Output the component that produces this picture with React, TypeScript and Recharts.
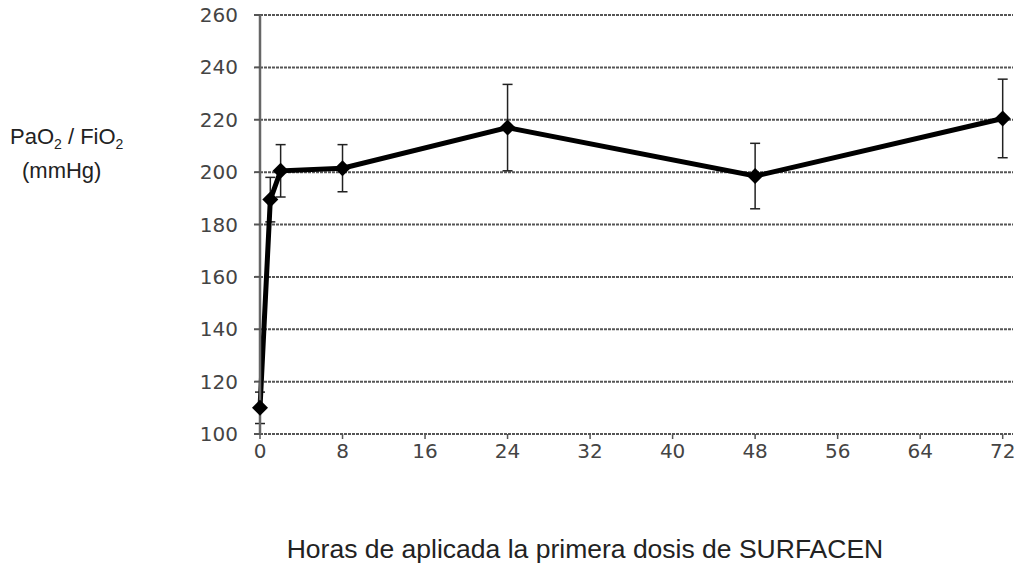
import React from "react";
import {
  LineChart,
  Line,
  XAxis,
  YAxis,
  CartesianGrid,
  ErrorBar,
} from "recharts";

// hours after the first SURFACEN dose
const hours = [0, 1, 2, 8, 24, 48, 72];
// PaO2 / FiO2 means (mmHg)
const pafi = [110, 189.5, 200.5, 201.5, 217, 198.5, 220.5];
// error (±)
const spread = [6, 8.5, 10, 9, 16.5, 12.5, 15];

const xTicks = [0, 8, 16, 24, 32, 40, 48, 56, 64, 72];
const yTicks = [100, 120, 140, 160, 180, 200, 220, 240, 260];

const data = hours.map((h, i) => ({ h, v: pafi[i], e: spread[i] }));

const Diamond = (props: any) => {
  const { cx, cy, index } = props;
  if (cx == null || cy == null) return null;
  const r = 8;
  return (
    <path
      key={`d-${index}`}
      d={`M${cx},${cy - r}L${cx + r},${cy}L${cx},${cy + r}L${cx - r},${cy}Z`}
      fill="#000"
    />
  );
};

const tickStyle = {
  fontFamily: "DejaVu Sans",
  fontSize: 20,
  fill: "#444",
};

export default function App() {
  return (
    <div
      style={{
        position: "absolute",
        left: 0,
        top: 0,
        width: 1026,
        height: 565,
        overflow: "hidden",
        background: "#fff",
        fontFamily: "'Liberation Sans', Arial, sans-serif",
      }}
    >
      <LineChart
        width={1026}
        height={565}
        data={data}
        margin={{ top: 15, right: 13, left: 0, bottom: 91 }}
      >
        <CartesianGrid
          horizontal
          vertical={false}
          stroke="#555"
          strokeWidth={2}
          strokeDasharray="3 1"
        />
        <XAxis
          type="number"
          dataKey="h"
          domain={[0, 73]}
          ticks={xTicks}
          height={40}
          tick={tickStyle}
          tickSize={5}
          tickMargin={5}
          axisLine={false}
          tickLine={{ stroke: "#555", strokeWidth: 1.5 }}
        />
        <YAxis
          type="number"
          domain={[100, 260]}
          ticks={yTicks}
          width={260}
          tick={tickStyle}
          tickSize={6}
          tickMargin={16}
          axisLine={{ stroke: "#666", strokeWidth: 2.5 }}
          tickLine={{ stroke: "#555", strokeWidth: 2 }}
        />
        <Line
          type="linear"
          dataKey="v"
          stroke="#000"
          strokeWidth={5}
          dot={Diamond}
          activeDot={false}
          isAnimationActive={false}
        >
          <ErrorBar
            dataKey="e"
            direction="y"
            width={5}
            stroke="#222"
            strokeWidth={1.5}
            isAnimationActive={false}
          />
        </Line>
      </LineChart>
      <div
        style={{
          position: "absolute",
          left: 10,
          top: 124,
          fontSize: 22,
          color: "#222",
          lineHeight: "26px",
        }}
      >
        PaO<sub style={{ fontSize: 14 }}>2</sub> / FiO<sub style={{ fontSize: 14 }}>2</sub>
      </div>
      <div
        style={{
          position: "absolute",
          left: 22,
          top: 158,
          fontSize: 22,
          color: "#222",
          lineHeight: "26px",
        }}
      >
        (mmHg)
      </div>
      <div
        style={{
          position: "absolute",
          left: 0,
          width: 1170,
          top: 534,
          textAlign: "center",
          fontSize: 26.5,
          color: "#222",
          lineHeight: "30px",
        }}
      >
        Horas de aplicada la primera dosis de SURFACEN
      </div>
    </div>
  );
}
